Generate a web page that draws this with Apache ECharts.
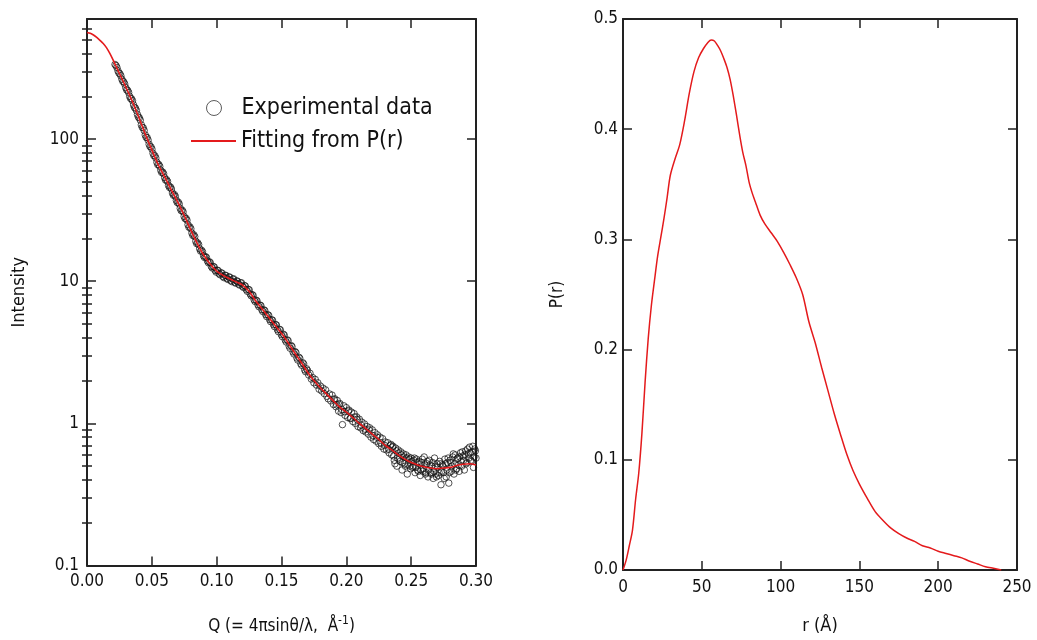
<!DOCTYPE html>
<html>
<head>
<meta charset="utf-8">
<script src="https://cdn.jsdelivr.net/npm/echarts@6/dist/echarts.min.js"></script>
<style>
html,body{margin:0;padding:0;background:#fff;}
#c{width:1037px;height:640px;}
</style>
</head>
<body>
<div id="c"></div>
<script>
// ---- Left panel: scattering intensity ----
const qFit = [0, 0.0025, 0.005, 0.0075, 0.010, 0.0125, 0.015, 0.0175, 0.020, 0.025, 0.030, 0.035, 0.040, 0.045, 0.050, 0.055, 0.060, 0.065, 0.070, 0.075, 0.080, 0.085, 0.090, 0.095, 0.100, 0.105, 0.110, 0.115, 0.120, 0.125, 0.130, 0.135, 0.140, 0.145, 0.150, 0.155, 0.160, 0.165, 0.170, 0.175, 0.180, 0.185, 0.190, 0.195, 0.200, 0.205, 0.210, 0.215, 0.220, 0.225, 0.230, 0.235, 0.240, 0.245, 0.250, 0.255, 0.260, 0.265, 0.270, 0.275, 0.280, 0.285, 0.290, 0.295, 0.300];
const iFit = [562, 555, 540, 519, 495, 470, 440, 402, 362, 290, 232, 184, 142, 108, 84, 66, 54, 44, 36, 29, 23, 18.5, 15.3, 13.2, 11.8, 11.0, 10.4, 9.9, 9.4, 8.5, 7.3, 6.4, 5.6, 4.9, 4.3, 3.7, 3.15, 2.7, 2.3, 2.0, 1.78, 1.6, 1.44, 1.3, 1.2, 1.1, 1.0, 0.92, 0.84, 0.77, 0.70, 0.65, 0.60, 0.56, 0.53, 0.51, 0.495, 0.485, 0.48, 0.485, 0.49, 0.505, 0.515, 0.52, 0.51];

const expQ = [
0.0216,0.0231,0.0246,0.0261,0.0276,0.0291,0.0306,0.0321,0.0336,0.0351,0.0366,0.0381,0.0396,0.0411,0.0426,0.0441,0.0456,0.0471,0.0486,0.0501,
0.0516,0.0531,0.0546,0.0561,0.0576,0.0591,0.0606,0.0621,0.0636,0.0651,0.0666,0.0681,0.0696,0.0711,0.0726,0.0741,0.0756,0.0771,0.0786,0.0801,
0.0816,0.0831,0.0846,0.0861,0.0876,0.0891,0.0906,0.0921,0.0936,0.0951,0.0966,0.0981,0.0996,0.1011,0.1026,0.1041,0.1056,0.1071,0.1086,0.1101,
0.1116,0.1131,0.1146,0.1161,0.1176,0.1191,0.1206,0.1221,0.1236,0.1251,0.1266,0.1281,0.1296,0.1311,0.1326,0.1341,0.1356,0.1371,0.1386,0.1401,
0.1416,0.1431,0.1446,0.1461,0.1476,0.1491,0.1506,0.1521,0.1536,0.1551,0.1566,0.1581,0.1596,0.1611,0.1626,0.1641,0.1656,0.1671,0.1686,
0.0224,0.0239,0.0254,0.0269,0.0284,0.0299,0.0314,0.0329,0.0344,0.0359,0.0374,0.0389,0.0404,0.0419,0.0434,0.0449,0.0464,0.0479,0.0494,0.0509,
0.0524,0.0539,0.0554,0.0569,0.0584,0.0599,0.0614,0.0629,0.0644,0.0659,0.0674,0.0689,0.0704,0.0719,0.0734,0.0749,0.0764,0.0779,0.0794,0.0809,
0.0824,0.0839,0.0854,0.0869,0.0884,0.0899,0.0914,0.0929,0.0944,0.0959,0.0974,0.0989,0.1004,0.1019,0.1034,0.1049,0.1064,0.1079,0.1094,0.1109,
0.1124,0.1139,0.1154,0.1169,0.1184,0.1199,0.1214,0.1229,0.1244,0.1259,0.1274,0.1289,0.1304,0.1319,0.1334,0.1349,0.1364,0.1379,0.1394,0.1409,
0.1424,0.1439,0.1454,0.1469,0.1484,0.1499,0.1514,0.1529,0.1544,0.1559,0.1574,0.1589,0.1604,0.1619,0.1634,0.1649,0.1664,0.1679,0.1694,
0.170,0.171,0.172,0.173,0.174,0.175,0.176,0.177,0.178,0.179,0.180,0.181,0.182,0.183,0.184,0.185,0.186,0.187,0.188,0.189,
0.190,0.191,0.192,0.193,0.194,0.195,0.196,0.197,0.198,0.199,0.200,0.201,0.202,0.203,0.204,0.205,0.206,0.207,0.208,0.209,
0.210,0.211,0.212,0.213,0.214,0.215,0.216,0.217,0.218,0.219,0.220,0.221,0.222,0.223,0.224,0.225,0.226,0.227,0.228,0.229,
0.230,0.231,0.232,0.233,0.234,0.235,0.236,0.237,0.238,0.239,0.240,0.241,0.242,0.243,0.244,0.245,0.246,0.247,0.248,0.249,
0.250,0.251,0.252,0.253,0.254,0.255,0.256,0.257,0.258,0.259,0.260,0.261,0.262,0.263,0.264,0.265,0.266,0.267,0.268,0.269,
0.270,0.271,0.272,0.273,0.274,0.275,0.276,0.277,0.278,0.279,0.280,0.281,0.282,0.283,0.284,0.285,0.286,0.287,0.288,0.289,
0.290,0.291,0.292,0.293,0.294,0.295,0.296,0.297,0.298,0.299,0.300,
0.1905,0.1925,0.1945,0.1965,0.1985,0.2015,0.2035,0.2065,0.2085,0.2115,0.2145,0.2175,0.2205,0.2235,0.2265,0.2295,0.2325,0.2345,
0.2355,0.2365,0.2375,0.2385,0.2395,0.2405,0.2415,0.2425,0.2435,0.2445,0.2455,0.2465,0.2475,0.2485,0.2495,0.2505,0.2515,0.2525,0.2535,0.2545,
0.2555,0.2565,0.2575,0.2585,0.2595,0.2605,0.2615,0.2625,0.2635,0.2645,0.2655,0.2665,0.2675,0.2685,0.2695,0.2705,0.2715,0.2725,0.2735,0.2745,
0.2755,0.2765,0.2775,0.2785,0.2795,0.2805,0.2815,0.2825,0.2835,0.2845,0.2855,0.2865,0.2875,0.2885,0.2895,0.2905,0.2915,0.2925,0.2935,0.2945,
0.2955,0.2965,0.2975,0.2985,0.2995
];
const expI = [
335,319,292,279,255,244,222,213,193,186,167,159,143,136,121,115,103,98.5,88.6,85.0,
76.4,73.6,66.1,64.3,58.2,57.0,51.5,50.4,45.7,44.6,40.3,39.6,35.8,35.0,31.4,30.8,27.6,26.9,24.0,23.4,
21.0,20.6,18.4,18.1,16.3,16.1,14.7,14.7,13.5,13.5,12.4,12.6,11.6,11.9,11.1,11.4,10.6,11.0,10.3,10.7,
9.95,10.4,9.70,10.0,9.40,9.75,9.05,9.25,8.50,8.70,7.90,7.95,7.20,7.28,6.62,6.74,6.12,6.22,5.64,5.76,
5.20,5.32,4.80,4.92,4.42,4.55,4.08,4.18,3.74,3.82,3.38,3.47,3.08,3.15,2.79,2.87,2.56,2.62,2.31,
329,302,288,264,252,230,220,200,192,174,165,149,141,126,120,107,102.5,92.0,88.0,79.4,
76.2,68.7,66.2,60.3,58.6,53.5,51.8,47.2,46.0,41.8,40.7,37.1,36.0,32.6,31.6,28.6,27.7,25.0,24.1,21.8,
21.2,19.1,18.6,16.9,16.5,15.1,14.9,13.9,13.7,12.7,12.7,11.9,11.95,11.3,11.45,10.8,11.0,10.45,10.7,10.1,
10.35,9.82,10.05,9.55,9.74,9.22,9.32,8.72,8.76,8.13,8.05,7.41,7.36,6.82,6.80,6.30,6.29,5.82,5.81,5.37,
5.35,4.95,4.96,4.56,4.59,4.21,4.24,3.86,3.87,3.50,3.53,3.18,3.20,2.88,2.92,2.63,2.67,2.38,2.42,
2.36,2.19,2.25,2.05,2.10,1.93,2.04,1.86,1.93,1.74,1.83,1.69,1.77,1.62,1.72,1.55,1.49,1.61,1.44,1.58,
1.36,1.49,1.31,1.45,1.22,1.38,1.19,0.98,1.33,1.14,1.29,1.10,1.24,1.08,1.20,1.03,1.17,1.00,1.11,0.95,
1.07,0.93,1.02,0.89,0.99,0.87,0.95,0.84,0.93,0.80,0.90,0.77,0.86,0.75,0.83,0.72,0.80,0.69,0.78,0.66,
0.74,0.65,0.73,0.62,0.70,0.60,0.69,0.55,0.67,0.50,0.65,0.56,0.63,0.47,0.61,0.52,0.60,0.44,0.58,0.50,
0.57,0.49,0.55,0.45,0.56,0.47,0.54,0.43,0.53,0.46,0.58,0.44,0.52,0.42,0.55,0.45,0.50,0.41,0.57,0.44,
0.52,0.43,0.54,0.37,0.51,0.45,0.56,0.42,0.53,0.38,0.55,0.46,0.58,0.44,0.60,0.48,0.57,0.46,0.62,0.50,
0.59,0.47,0.64,0.53,0.61,0.68,0.55,0.63,0.49,0.66,0.57,
1.47,1.35,1.36,1.25,1.21,1.22,1.09,1.11,1.06,0.97,0.91,0.90,0.82,0.80,0.73,0.70,0.66,0.71,
0.68,0.59,0.52,0.64,0.57,0.62,0.54,0.60,0.53,0.58,0.50,0.57,0.51,0.56,0.48,0.54,0.50,0.57,0.49,0.53,
0.46,0.52,0.47,0.56,0.48,0.51,0.45,0.54,0.47,0.51,0.44,0.53,0.46,0.50,0.42,0.49,0.45,0.52,0.46,0.50,
0.41,0.52,0.47,0.57,0.45,0.53,0.50,0.61,0.52,0.47,0.56,0.51,0.58,0.54,0.63,0.55,0.60,0.52,0.66,0.57,
0.62,0.54,0.69,0.58,0.64
];

const qTicks = [0, 0.05, 0.10, 0.15, 0.20, 0.25, 0.30];
const logMajor = [0.1, 1, 10, 100];
const logMinor = [0.2,0.3,0.4,0.5,0.6,0.7,0.8,0.9, 2,3,4,5,6,7,8,9, 20,30,40,50,60,70,80,90, 200,300,400,500,600];

// ---- Right panel: pair distance distribution ----
const rVals = [0,2,4,6,8,10,12,14,16,18,20,22,24,26,28,30,33,36,39,42,45,48,51,54,56,58,60,62,64,66,68,70,72,74,76,78,80,82,84,87,90,94,98,102,106,110,114,118,122,126,130,134,138,142,146,150,155,160,165,170,175,180,185,190,195,200,205,210,215,220,225,230,235,240];
const pVals = [0,0.009,0.022,0.036,0.064,0.088,0.124,0.170,0.210,0.240,0.263,0.285,0.302,0.319,0.338,0.358,0.373,0.386,0.407,0.432,0.452,0.465,0.473,0.479,0.481,0.480,0.476,0.471,0.464,0.456,0.445,0.430,0.413,0.395,0.379,0.367,0.352,0.342,0.334,0.322,0.314,0.306,0.298,0.288,0.277,0.265,0.250,0.225,0.206,0.184,0.163,0.142,0.123,0.105,0.090,0.078,0.065,0.053,0.045,0.038,0.033,0.029,0.026,0.022,0.020,0.017,0.015,0.013,0.011,0.008,0.0055,0.003,0.0015,0];

const FONT = '"DejaVu Sans Condensed", "Liberation Sans", sans-serif';
const INK = '#222';
const RED = '#e41a1c';

const chart = echarts.init(document.getElementById('c'), null, {renderer: 'canvas'});

function frameAxis(extra) {
  return Object.assign({
    axisLine: {show: true, onZero: false, lineStyle: {color: INK, width: 2}},
    axisTick: {show: true, inside: true, length: 9, lineStyle: {color: INK, width: 1.5}},
    splitLine: {show: false},
    axisLabel: {show: false}
  }, extra);
}
const labelStyle = {color: '#111', fontSize: 17, fontFamily: FONT};
const legendText = {fontSize: 23, fontFamily: FONT, color: '#111', lineHeight: 26};

const option = {
  animation: false,
  backgroundColor: '#fff',
  textStyle: {fontFamily: FONT},
  grid: [
    {left: 87, top: 19, width: 389, height: 547, containLabel: false},
    {left: 623, top: 19, width: 394, height: 556, containLabel: false}
  ],
  legend: [
    {
      left: 206, top: 95, padding: 0, orient: 'vertical',
      itemWidth: 45, itemHeight: 15, itemTextGap: 22,
      textStyle: legendText, selectedMode: false,
      data: [{name: 'Experimental data', icon: 'circle',
        itemStyle: {color: 'transparent', borderColor: '#333', borderWidth: 1}}]
    },
    {
      left: 191, top: 128, padding: 0, orient: 'vertical',
      itemWidth: 45, itemHeight: 2, itemTextGap: 21,
      textStyle: legendText, selectedMode: false,
      data: [{name: 'Fitting from P(r)', icon: 'rect', itemStyle: {color: RED}}]
    }
  ],
  xAxis: [
    frameAxis({gridIndex: 0, type: 'value', position: 'bottom', min: 0, max: 0.3, interval: 0.05,
      axisLabel: Object.assign({show: true, margin: 8, formatter: v => v.toFixed(2)}, labelStyle),
      name: 'Q (= 4πsinθ/λ,  Å{sup|-1})', nameLocation: 'middle', nameGap: 49,
      nameTextStyle: {color: '#111', fontSize: 17, fontFamily: FONT, verticalAlign: 'top',
        rich: {sup: {fontSize: 12, fontFamily: FONT, color: '#111', verticalAlign: 'bottom', padding: [0, 0, 12, 0]}}}}),
    frameAxis({gridIndex: 0, type: 'value', position: 'top', min: 0, max: 0.3, interval: 0.05}),
    frameAxis({gridIndex: 1, type: 'value', position: 'bottom', min: 0, max: 250, interval: 50,
      axisLabel: Object.assign({show: true, margin: 9}, labelStyle),
      name: 'r (Å)', nameLocation: 'middle', nameGap: 47,
      nameTextStyle: {color: '#111', fontSize: 18, fontFamily: FONT}}),
    frameAxis({gridIndex: 1, type: 'value', position: 'top', min: 0, max: 250, interval: 50})
  ],
  yAxis: [
    frameAxis({gridIndex: 0, type: 'log', logBase: 10, position: 'left', min: 0.1, max: 700,
      axisTick: {show: true, inside: true, length: 9, lineStyle: {color: INK, width: 1.5}, customValues: logMajor},
      axisLabel: Object.assign({show: true, margin: 8, customValues: logMajor, formatter: v => String(v)}, labelStyle),
      name: 'Intensity', nameLocation: 'middle', nameGap: 59,
      nameTextStyle: {color: '#111', fontSize: 18, fontFamily: FONT}}),
    frameAxis({gridIndex: 0, type: 'log', logBase: 10, position: 'left', min: 0.1, max: 700,
      axisLine: {show: false},
      axisTick: {show: true, inside: true, length: 5, lineStyle: {color: INK, width: 1.5}, customValues: logMinor}}),
    frameAxis({gridIndex: 0, type: 'log', logBase: 10, position: 'right', min: 0.1, max: 700,
      axisTick: {show: true, inside: true, length: 9, lineStyle: {color: INK, width: 1.5}, customValues: logMajor}}),
    frameAxis({gridIndex: 0, type: 'log', logBase: 10, position: 'right', min: 0.1, max: 700,
      axisLine: {show: false},
      axisTick: {show: true, inside: true, length: 5, lineStyle: {color: INK, width: 1.5}, customValues: logMinor}}),
    frameAxis({gridIndex: 1, type: 'value', position: 'left', min: 0, max: 0.5, interval: 0.1,
      axisLabel: Object.assign({show: true, margin: 5, formatter: v => v.toFixed(1)}, labelStyle),
      name: 'P(r)', nameLocation: 'middle', nameGap: 57,
      nameTextStyle: {color: '#111', fontSize: 17, fontFamily: FONT}}),
    frameAxis({gridIndex: 1, type: 'value', position: 'right', min: 0, max: 0.5, interval: 0.1})
  ],
  series: [
    {
      name: 'Experimental data', type: 'scatter', xAxisIndex: 0, yAxisIndex: 0,
      symbol: 'circle', symbolSize: 6.5,
      itemStyle: {color: 'transparent', borderColor: '#111', borderWidth: 0.9},
      data: expQ.map((q, i) => [q, expI[i]]), z: 2
    },
    {
      name: 'Fitting from P(r)', type: 'line', xAxisIndex: 0, yAxisIndex: 0,
      symbol: 'none', smooth: 0.3,
      lineStyle: {color: RED, width: 1.6}, itemStyle: {color: RED},
      data: qFit.map((q, i) => [q, iFit[i]]), z: 3
    },
    {
      name: 'P(r) distribution', type: 'line', xAxisIndex: 2, yAxisIndex: 4,
      symbol: 'none', smooth: 0.3,
      lineStyle: {color: RED, width: 1.5}, itemStyle: {color: RED},
      data: rVals.map((r, i) => [r, pVals[i]])
    }
  ]
};
chart.setOption(option);
</script>
</body>
</html>
